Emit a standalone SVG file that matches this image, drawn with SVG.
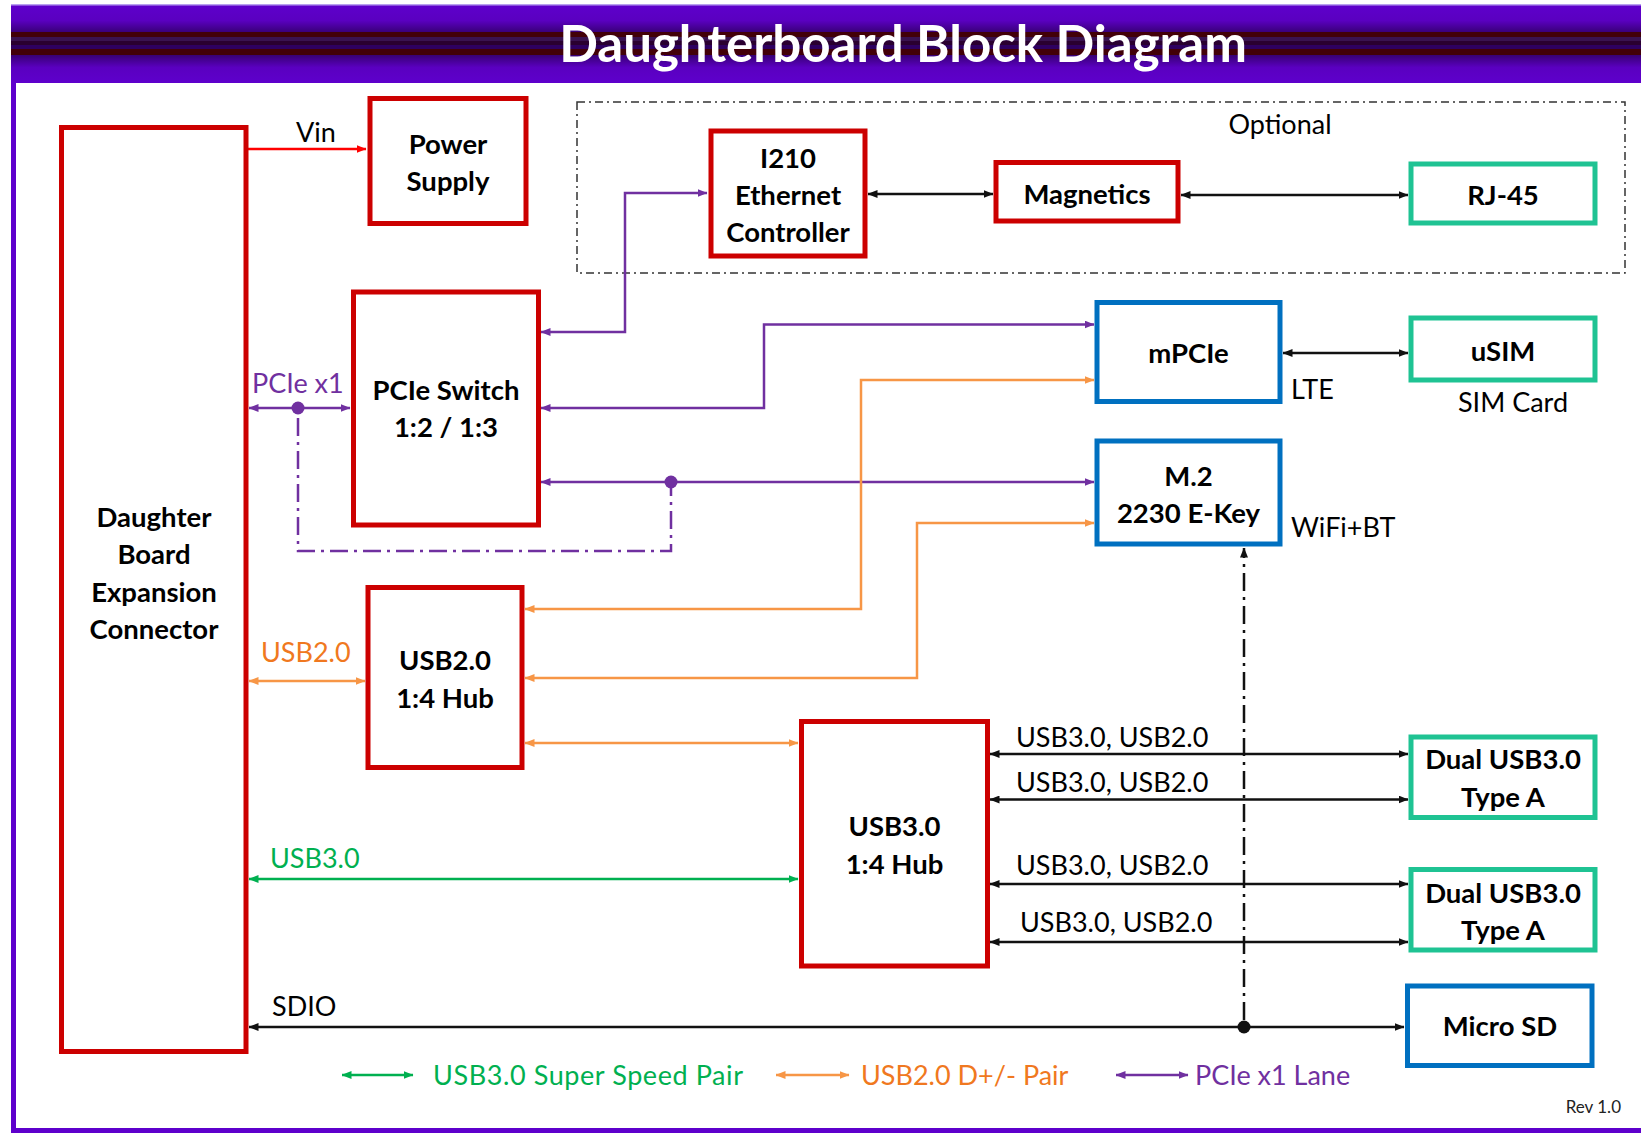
<svg xmlns="http://www.w3.org/2000/svg" width="1641" height="1133" viewBox="0 0 1641 1133">
<style>
.node{fill:#fff;stroke-width:5}
.red{stroke:#CC0000}
.blue{stroke:#0070C0}
.teal{stroke:#1FC393}
.lbl{font-family:Lato,"Liberation Sans",sans-serif;font-size:27.5px;font-weight:bold;fill:#000;text-anchor:middle}
.t{font-family:Lato,"Liberation Sans",sans-serif;font-size:27px;fill:#000}
.ln{fill:none;stroke-width:2.5}
.k{stroke:#111}
.p{stroke:#7030A0}
.o{stroke:#F79646}
.g{stroke:#00B050}
</style>
<defs>
<linearGradient id="hdr" x1="0" y1="0" x2="0" y2="1">
<stop offset="0" stop-color="#5E00CC"/>
<stop offset="0.2" stop-color="#5A00C0"/>
<stop offset="0.4" stop-color="#2E0060"/>
<stop offset="0.6" stop-color="#2E0060"/>
<stop offset="0.8" stop-color="#5A00C0"/>
<stop offset="1" stop-color="#5E00CC"/>
</linearGradient>
<marker id="ak" viewBox="0 0 10 8" refX="9.5" refY="4" markerWidth="10" markerHeight="8" markerUnits="userSpaceOnUse" orient="auto-start-reverse"><path d="M0,0 L10,4 L0,8 z" fill="#111"/></marker>
<marker id="ap" viewBox="0 0 10 8" refX="9.5" refY="4" markerWidth="10" markerHeight="8" markerUnits="userSpaceOnUse" orient="auto-start-reverse"><path d="M0,0 L10,4 L0,8 z" fill="#7030A0"/></marker>
<marker id="ao" viewBox="0 0 10 8" refX="9.5" refY="4" markerWidth="10" markerHeight="8" markerUnits="userSpaceOnUse" orient="auto-start-reverse"><path d="M0,0 L10,4 L0,8 z" fill="#F79646"/></marker>
<marker id="ag" viewBox="0 0 10 8" refX="9.5" refY="4" markerWidth="10" markerHeight="8" markerUnits="userSpaceOnUse" orient="auto-start-reverse"><path d="M0,0 L10,4 L0,8 z" fill="#00B050"/></marker>
<marker id="ar" viewBox="0 0 10 8" refX="9.5" refY="4" markerWidth="10" markerHeight="8" markerUnits="userSpaceOnUse" orient="auto-start-reverse"><path d="M0,0 L10,4 L0,8 z" fill="#FF0000"/></marker>
</defs>
<rect x="0" y="0" width="1641" height="1133" fill="#fff"/>
<g id="frame">
<rect x="11" y="5" width="1630" height="78" fill="url(#hdr)"/>
<rect x="11" y="32" width="1630" height="5" fill="#420008"/>
<rect x="11" y="37" width="1630" height="4" fill="#3A1250"/>
<rect x="11" y="41" width="1630" height="4" fill="#2A0030"/>
<rect x="11" y="49" width="1630" height="6" fill="#420008"/>
<rect x="11" y="4" width="1630" height="1.5" fill="#B9A0F0"/>
<rect x="11" y="83" width="5" height="1050" fill="#5E00CC"/>
<rect x="11" y="1128" width="1630" height="5" fill="#5E00CC"/>
<text x="903" y="62" font-family="Lato,'Liberation Sans',sans-serif" font-size="51" font-weight="bold" fill="#fff" text-anchor="middle">Daughterboard Block Diagram</text>
</g>
<g id="optional">
<rect x="577" y="102" width="1048" height="171" fill="none" stroke="#333" stroke-width="1.5" stroke-dasharray="8 4 2 4"/>
<text class="t" x="1280" y="134" text-anchor="middle">Optional</text>
</g>
<g id="connectors">
<path class="ln" d="M247 149 H366" stroke="#FF0000" stroke-width="2" marker-end="url(#ar)"/>
<path class="ln p" d="M249 408 H350" marker-start="url(#ap)" marker-end="url(#ap)"/>
<circle cx="298" cy="408" r="6.5" fill="#7030A0"/>
<path class="ln p" d="M298 418 V551 H671 V488" stroke-dasharray="18 6 3 6"/>
<path class="ln p" d="M541 332 H625 V193 H707" marker-start="url(#ap)" marker-end="url(#ap)"/>
<path class="ln p" d="M541 408 H764 V324.5 H1094" marker-start="url(#ap)" marker-end="url(#ap)"/>
<path class="ln p" d="M541 482 H1094" marker-start="url(#ap)" marker-end="url(#ap)"/>
<circle cx="671" cy="482" r="6.5" fill="#7030A0"/>
<path class="ln o" d="M525 609 H861 V380 H1094" marker-start="url(#ao)" marker-end="url(#ao)"/>
<path class="ln o" d="M525 678 H917 V523 H1094" marker-start="url(#ao)" marker-end="url(#ao)"/>
<path class="ln o" d="M249 681 H365" marker-start="url(#ao)" marker-end="url(#ao)"/>
<path class="ln o" d="M525 743 H798" marker-start="url(#ao)" marker-end="url(#ao)"/>
<path class="ln g" d="M249 879 H798" marker-start="url(#ag)" marker-end="url(#ag)"/>
<path class="ln k" d="M990 754 H1408" marker-start="url(#ak)" marker-end="url(#ak)"/>
<path class="ln k" d="M990 799.5 H1408" marker-start="url(#ak)" marker-end="url(#ak)"/>
<path class="ln k" d="M990 884 H1408" marker-start="url(#ak)" marker-end="url(#ak)"/>
<path class="ln k" d="M990 942 H1408" marker-start="url(#ak)" marker-end="url(#ak)"/>
<path class="ln k" d="M249 1027 H1404" marker-start="url(#ak)" marker-end="url(#ak)"/>
<circle cx="1244" cy="1027" r="6.5" fill="#111"/>
<path class="ln k" d="M1244 1020 V548" stroke-width="1.8" stroke-dasharray="18 6 3 6" marker-end="url(#ak)"/>
<path class="ln k" d="M868 194 H993" marker-start="url(#ak)" marker-end="url(#ak)"/>
<path class="ln k" d="M1181 195 H1408" marker-start="url(#ak)" marker-end="url(#ak)"/>
<path class="ln k" d="M1283 353 H1408" marker-start="url(#ak)" marker-end="url(#ak)"/>
<text class="t" x="316" y="142" text-anchor="middle">Vin</text>
<text class="t" x="252" y="393" style="fill:#7030A0">PCIe x1</text>
<text class="t" x="261" y="662" style="fill:#F07820">USB2.0</text>
<text class="t" x="270" y="868" style="fill:#00B050">USB3.0</text>
<text class="t" x="272" y="1016">SDIO</text>
<text class="t" x="1291" y="399">LTE</text>
<text class="t" x="1291" y="537">WiFi+BT</text>
<text class="t" x="1513" y="412" text-anchor="middle">SIM Card</text>
<text class="t" x="1016" y="747">USB3.0, USB2.0</text>
<text class="t" x="1016" y="792">USB3.0, USB2.0</text>
<text class="t" x="1016" y="875">USB3.0, USB2.0</text>
<text class="t" x="1020" y="932">USB3.0, USB2.0</text>
</g>
<g id="legend">
<path class="ln g" d="M342 1075 H413" marker-start="url(#ag)" marker-end="url(#ag)"/>
<text class="t" x="433" y="1085" style="fill:#00B050" textLength="310">USB3.0 Super Speed Pair</text>
<path class="ln o" d="M776 1075 H849" marker-start="url(#ao)" marker-end="url(#ao)"/>
<text class="t" x="861" y="1085" style="fill:#F07820">USB2.0 D+/- Pair</text>
<path class="ln p" d="M1116 1075 H1188" marker-start="url(#ap)" marker-end="url(#ap)"/>
<text class="t" x="1195" y="1085" style="fill:#7030A0">PCIe x1 Lane</text>
<text x="1621" y="1113" font-family="Lato,'Liberation Sans',sans-serif" font-size="17" fill="#222" text-anchor="end">Rev 1.0</text>
</g>
<g id="expansion-connector">
<rect class="node red" x="61.5" y="127.5" width="184.5" height="924"/>
<text class="lbl" x="154" y="527">Daughter</text>
<text class="lbl" x="154" y="564">Board</text>
<text class="lbl" x="154" y="602">Expansion</text>
<text class="lbl" x="154" y="639">Connector</text>
</g>
<g id="power-supply">
<rect class="node red" x="370" y="98.5" width="156" height="125"/>
<text class="lbl" x="448" y="154">Power</text>
<text class="lbl" x="448" y="191">Supply</text>
</g>
<g id="i210">
<rect class="node red" x="711" y="131" width="154" height="125"/>
<text class="lbl" x="788" y="168">I210</text>
<text class="lbl" x="788" y="205">Ethernet</text>
<text class="lbl" x="788" y="242">Controller</text>
</g>
<g id="magnetics">
<rect class="node red" x="996" y="162.5" width="182" height="58.5"/>
<text class="lbl" x="1087" y="204">Magnetics</text>
</g>
<g id="rj45">
<rect class="node teal" x="1411" y="164" width="184" height="59"/>
<text class="lbl" x="1503" y="205">RJ-45</text>
</g>
<g id="pcie-switch">
<rect class="node red" x="353.5" y="292" width="185" height="233"/>
<text class="lbl" x="446" y="400">PCIe Switch</text>
<text class="lbl" x="446" y="437">1:2 / 1:3</text>
</g>
<g id="mpcie">
<rect class="node blue" x="1097" y="302.5" width="183" height="99"/>
<text class="lbl" x="1188.5" y="363">mPCIe</text>
</g>
<g id="usim">
<rect class="node teal" x="1411" y="318" width="184" height="62"/>
<text class="lbl" x="1503" y="361">uSIM</text>
</g>
<g id="m2">
<rect class="node blue" x="1097" y="441" width="183" height="103"/>
<text class="lbl" x="1188.5" y="486">M.2</text>
<text class="lbl" x="1188.5" y="523">2230 E-Key</text>
</g>
<g id="usb2-hub">
<rect class="node red" x="368" y="587.5" width="154" height="180"/>
<text class="lbl" x="445" y="670">USB2.0</text>
<text class="lbl" x="445" y="708">1:4 Hub</text>
</g>
<g id="usb3-hub">
<rect class="node red" x="801.5" y="721.5" width="186" height="244.5"/>
<text class="lbl" x="894.5" y="836">USB3.0</text>
<text class="lbl" x="894.5" y="874">1:4 Hub</text>
</g>
<g id="dual-usb-1">
<rect class="node teal" x="1411" y="737" width="184" height="80.5"/>
<text class="lbl" x="1503" y="769">Dual USB3.0</text>
<text class="lbl" x="1503" y="807">Type A</text>
</g>
<g id="dual-usb-2">
<rect class="node teal" x="1411" y="869.5" width="184" height="80.5"/>
<text class="lbl" x="1503" y="903">Dual USB3.0</text>
<text class="lbl" x="1503" y="940">Type A</text>
</g>
<g id="micro-sd">
<rect class="node blue" x="1407.5" y="986" width="184.5" height="79.5"/>
<text class="lbl" x="1500" y="1036">Micro SD</text>
</g>
</svg>
